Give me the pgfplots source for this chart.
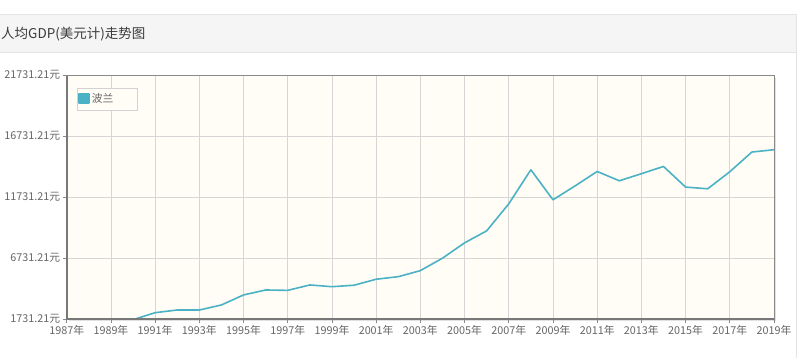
\documentclass[border=0pt]{standalone}
\usepackage{pgfplots}
\pgfplotsset{compat=1.18}
\usepackage{fontspec}
\setmainfont{Noto Sans CJK SC}
\definecolor{series}{HTML}{4BB2C5}
\definecolor{plotbg}{HTML}{FFFDF6}
\definecolor{gridc}{HTML}{D6D6D6}
\definecolor{axc}{HTML}{8A8A8A}
\definecolor{axdark}{HTML}{787878}
\definecolor{txt}{HTML}{666666}
\definecolor{titlec}{HTML}{3C3C3C}
\definecolor{panelbg}{HTML}{F5F5F5}
\definecolor{panelline}{HTML}{E4E4E4}
\definecolor{legline}{HTML}{D2D2D2}
\begin{document}
\begin{tikzpicture}
\begin{scope}[x=1pt,y=1pt]
\path[use as bounding box] (0,0) rectangle (800,358);
\fill[white] (0,0) rectangle (800,358);
\fill[panelbg] (-2,358-53) rectangle (796.5,358-15);
\draw[panelline,line width=1pt] (-2,358-15) -- (796.5,358-15) -- (796.5,0);
\draw[panelline,line width=1pt] (-2,358-53) -- (796.5,358-53);
\node[anchor=west,font=\fontsize{13.5}{14}\selectfont,text=titlec,inner sep=0pt] at (1,358-34) {人均GDP(美元计)走势图};
\fill[black!12] (68.7,358-321.5) rectangle (776,358-78);
\end{scope}
\begin{axis}[
  at={(66.7pt,38.7pt)}, anchor=south west,
  width=707.3pt, height=244.3pt, scale only axis,
  xmin=1987, xmax=2019, ymin=1731.21, ymax=21731.21,
  scaled y ticks=false, scaled x ticks=false,
  clip=true,
  axis background/.style={fill=plotbg},
  axis line style={draw=axc, line width=0.8pt},
  xtick={1987,1989,...,2019},
  xticklabels={1987年,1989年,1991年,1993年,1995年,1997年,1999年,2001年,2003年,2005年,2007年,2009年,2011年,2013年,2015年,2017年,2019年},
  ytick={1731.21,6731.21,11731.21,16731.21,21731.21},
  yticklabels={1731.21元,6731.21元,11731.21元,16731.21元,21731.21元},
  grid=major,
  major grid style={draw=gridc, line width=0.7pt},
  tick align=outside,
  major tick length=4pt,
  tick style={draw=axc, line width=0.7pt},
  xtick pos=bottom, ytick pos=left,
  ticklabel style={font=\fontsize{10.8}{11}\selectfont, text=txt},
  xticklabel style={yshift=1pt},
  yticklabel style={xshift=1pt},
  legend style={at={(0.0146,0.948)}, anchor=north west, draw=legline, fill=plotbg, font=\fontsize{10.8}{11}\selectfont, text=txt, inner xsep=1pt, inner ysep=4pt},
  legend cell align=left,
  legend image code/.code={\fill[series] (0pt,-4pt) rectangle (10pt,5pt);},
]
\addplot[series, line width=1.6pt, line join=round] coordinates {
(1990,1700) (1991,2272) (1992,2494) (1993,2490) (1994,2904) (1995,3724)
(1996,4131) (1997,4100) (1998,4543) (1999,4400) (2000,4520) (2001,5011)
(2002,5220) (2003,5716) (2004,6733) (2005,7988) (2006,8971) (2007,11186)
(2008,13974) (2009,11514) (2010,12650) (2011,13834) (2012,13071) (2013,13650)
(2014,14244) (2015,12555) (2016,12415) (2017,13810) (2018,15425) (2019,15614)
};
\addlegendentry{\makebox[42pt][l]{波兰}}
\end{axis}
\draw[axdark,line width=1.6pt] (66.7pt,282pt) -- (66.7pt,38.7pt) -- (774pt,38.7pt);
\end{tikzpicture}
\end{document}
